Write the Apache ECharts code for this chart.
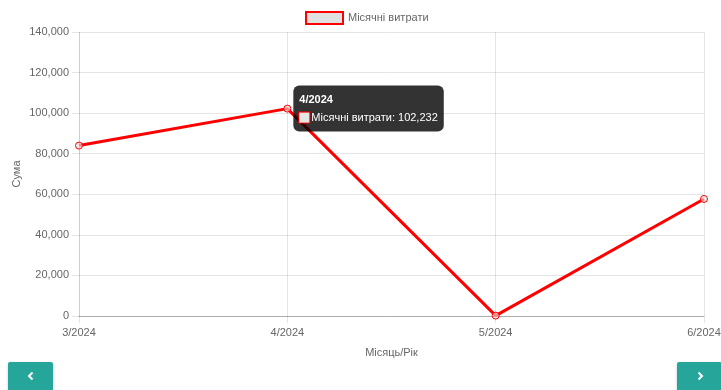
<!DOCTYPE html>
<html>
<head>
<meta charset="utf-8">
<script src="https://cdn.jsdelivr.net/npm/echarts@6/dist/echarts.min.js"></script>
<style>
  html, body { margin: 0; padding: 0; background: #fff; }
  #chart { position: absolute; left: 0; top: 0; width: 721px; height: 390px; }
  .nav-btn {
    position: absolute; top: 362px; width: 45px; height: 30px;
    background: #26a69a; border-radius: 2px; color: #fff;
    display: flex; align-items: center; justify-content: center;
    box-shadow: 0 1px 3px rgba(0,0,0,0.2);
  }
  #prev { left: 8px; }
  #next { left: 677px; }
  .nav-btn svg { width: 10px; height: 10px; margin-top: -2px; }
</style>
</head>
<body>
<div id="chart"></div>
<div class="nav-btn" id="prev"><svg viewBox="0 0 10 10"><path d="M6.5 1.5 L3 5 L6.5 8.5" stroke="#fff" stroke-width="2" fill="none"/></svg></div>
<div class="nav-btn" id="next"><svg viewBox="0 0 10 10"><path d="M3.5 1.5 L7 5 L3.5 8.5" stroke="#fff" stroke-width="2" fill="none"/></svg></div>
<script>
// Monthly spending by month/year
const months = ['3/2024', '4/2024', '5/2024', '6/2024'];
const spending = [84000, 102232, 200, 57700];
const seriesName = 'Місячні витрати';
const highlightIndex = 1;

const FONT = '"Liberation Sans", Arial, Helvetica, sans-serif';
const FS = 11;
const GRID = 'rgba(0,0,0,0.1)';
const TEXT = '#666';

const fmt = v => v.toLocaleString('en-US');

const data = spending.map((v, i) => {
  if (i !== highlightIndex) return v;
  return {
    value: v,
    label: {
      show: true,
      position: 'right',
      distance: 2,
      backgroundColor: 'rgba(0,0,0,0.8)',
      borderRadius: 6,
      padding: [6, 6, 6, 6],
      fontFamily: FONT,
      formatter: p => '{t|' + p.name + '}\n{b|}{v|' + p.seriesName + ': ' + fmt(p.value) + '}',
      rich: {
        t: { color: '#fff', fontWeight: 'bold', fontSize: FS, fontFamily: FONT, lineHeight: 18, padding: [0, 0, 2, 0] },
        b: { width: 10, height: 10, backgroundColor: '#e6e6e6', borderColor: '#ff0000', borderWidth: 1 },
        v: { color: '#fff', fontSize: FS, fontFamily: FONT, lineHeight: 16, padding: [0, 0, 0, 2] }
      }
    }
  };
});

const chart = echarts.init(document.getElementById('chart'), null, { renderer: 'canvas' });
chart.setOption({
  animation: false,
  textStyle: { fontFamily: FONT },
  legend: {
    top: 11,
    left: 305,
    padding: 0,
    itemWidth: 37,
    itemHeight: 12,
    icon: 'rect',
    textStyle: { color: TEXT, fontSize: FS, fontFamily: FONT },
    itemStyle: { color: '#e0e0e0', borderColor: '#ff0000', borderWidth: 2 },
    data: [seriesName]
  },
  grid: { left: 79, right: 17, top: 32, bottom: 74, containLabel: false, outerBoundsMode: 'none' },
  xAxis: {
    type: 'category',
    data: months,
    boundaryGap: false,
    name: 'Місяць/Рік',
    nameLocation: 'middle',
    nameGap: 31,
    nameTextStyle: { color: TEXT, fontSize: FS, fontFamily: FONT },
    axisLine: { show: true, lineStyle: { color: 'rgba(0,0,0,0.25)', width: 1 } },
    axisTick: { show: true, length: 7, lineStyle: { color: GRID } },
    axisLabel: { color: TEXT, fontSize: FS, fontFamily: FONT, margin: 11 },
    splitLine: { show: true, lineStyle: { color: GRID } }
  },
  yAxis: {
    type: 'value',
    min: 0,
    max: 140000,
    interval: 20000,
    name: 'Сума',
    nameLocation: 'middle',
    nameGap: 57,
    nameMoveOverlap: false,
    nameTextStyle: { color: TEXT, fontSize: FS, fontFamily: FONT },
    axisLine: { show: true, lineStyle: { color: GRID } },
    axisTick: { show: true, length: 7, lineStyle: { color: GRID } },
    axisLabel: { color: TEXT, fontSize: FS, fontFamily: FONT, margin: 10, formatter: v => fmt(v) },
    splitLine: { show: true, lineStyle: { color: GRID } }
  },
  series: [{
    name: seriesName,
    type: 'line',
    data: data,
    symbol: 'circle',
    symbolSize: 7,
    showAllSymbol: true,
    lineStyle: { color: '#ff0000', width: 3 },
    itemStyle: { color: 'rgba(230,230,230,0.6)', borderColor: '#ff0000', borderWidth: 1 },
    emphasis: { disabled: true },
    z: 3
  }]
});
</script>
</body>
</html>
